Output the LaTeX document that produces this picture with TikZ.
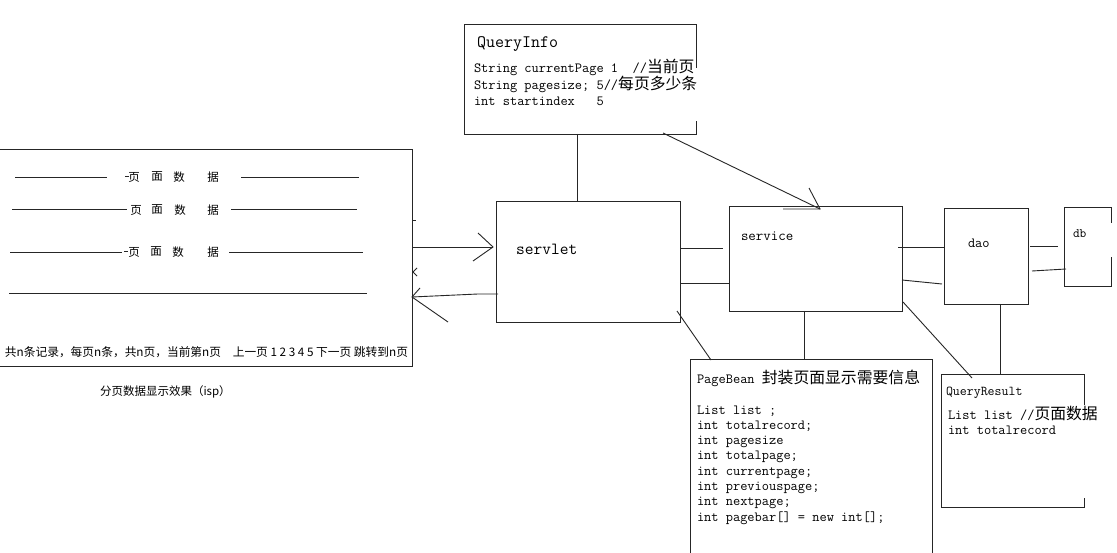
\documentclass[tikz,border=0pt]{standalone}
\usepackage{fontspec}
\usepackage{graphicx}
\newfontfamily\cjk{Noto Sans CJK SC}
\newfontfamily\cjkb[Scale=1.13]{Noto Sans CJK SC}
\usetikzlibrary{calc}
\begin{document}
\begin{tikzpicture}[x=1pt,y=-1pt,
  ln/.style={line width=0.9pt, draw=black!85},
  boxnode/.style={ln, rectangle, inner sep=0pt, outer sep=0pt},
  hidnode/.style={rectangle, draw=none, inner sep=0pt, outer sep=0pt},
  txt/.style={inner sep=0pt, outer sep=0pt, anchor=west, text=black},
  mono/.style={font=\ttfamily\fontsize{14}{15.3}\selectfont},
  pch/.style={inner sep=0pt, font=\cjk\fontsize{11.5}{12}\selectfont}
]
\useasboundingbox (0,0) rectangle (1117,553);
\fill[white] (0,0) rectangle (1117,553);

% ---------- boxes ----------
\node[boxnode, minimum width=413pt, minimum height=217pt] (page) at (205.5,257.5) {};
\node[hidnode, minimum width=232pt, minimum height=110pt] (qinfo) at (580,79) {};
\node[boxnode, minimum width=184pt, minimum height=121pt] (servlet) at (588,261.5) {};
\node[boxnode, minimum width=173pt, minimum height=105pt] (service) at (815.5,258.5) {};
\node[boxnode, minimum width=84pt, minimum height=96pt] (dao) at (986,256) {};
\node[hidnode, minimum width=47pt, minimum height=79pt] (db) at (1087.5,246.5) {};
\node[hidnode, minimum width=242pt, minimum height=206pt] (pagebean) at (811,462) {};
\node[hidnode, minimum width=143pt, minimum height=133pt] (qresult) at (1012.5,440.5) {};

% partial outlines
\draw[ln] ($(qinfo.north east)+(0,44)$) -- (qinfo.north east) -- (qinfo.north west)
  -- (qinfo.south west) -- (qinfo.south east) -- ++(0,-13);
\draw[ln] ($(db.north east)+(0,16)$) -- (db.north east) -- (db.north west)
  -- (db.south west) -- (db.south east) -- ++(0,-29);
\draw[ln] (pagebean.south west) -- (pagebean.north west) -- (pagebean.north east) -- (pagebean.south east);
\draw[ln] ($(qresult.north east)+(0,31)$) -- (qresult.north east) -- (qresult.north west)
  -- (qresult.south west) -- (qresult.south east) -- ++(0,-9);

% ---------- page mock-up contents ----------
\draw[ln] (15,177) -- (107,177);  \draw[ln] (125,176) -- (129,176); \draw[ln] (241,177) -- (359,177);
\draw[ln] (12,209) -- (127,209);  \draw[ln] (231,209) -- (357,209);
\draw[ln] (10,252) -- (122,252);  \draw[ln] (124,251) -- (128,251); \draw[ln] (229,252) -- (363,252);
\draw[ln] (9,293) -- (367,293);
\foreach \r/\yy/\xa/\xb/\xc/\xd in {1/177/134/157/179/213, 2/210/136/157/180/213, 3/252/134/156/178/213}{
  \node[pch] (r\r a) at (\xa,\yy) {页};
  \node[pch] (r\r b) at (\xb,\yy) {面};
  \node[pch] (r\r c) at (\xc,\yy) {数};
  \node[pch] (r\r d) at (\xd,\yy) {据};
}
\node[txt] (pager) at (5,352) {\resizebox{403pt}{!}{\cjk\fontsize{11.5}{12}\selectfont 共n条记录，每页n条，共n页，当前第n页　上一页 1 2 3 4 5 下一页 跳转到n页}};
\node[txt, font=\cjk\fontsize{11.5}{12}\selectfont] (caption) at (100,392) {分页数据显示效果（isp）};

% small marks on the page edge
\draw[ln] (412,220) -- (416,220);
\draw[ln] (417,268) -- (413,272) -- (417,276);

% ---------- texts ----------
\node[txt, font=\ttfamily\fontsize{17.5}{18}\selectfont] (qititle) at (477,44) {QueryInfo};
\node[txt, mono, anchor=north west, align=left] (qibody) at (474,59)
  {String currentPage 1~~//{\cjkb 当前页}\\String pagesize; 5//{\cjkb 每页多少条}\\int startindex~~~5};
\node[txt, font=\ttfamily\fontsize{17}{18}\selectfont] (servlettxt) at (516,249) {servlet};
\node[txt, font=\ttfamily\fontsize{14.5}{16}\selectfont] (servicetxt) at (741,236) {service};
\node[txt, font=\ttfamily\fontsize{14}{16}\selectfont] (daotxt) at (968,243) {dao};
\node[txt, font=\ttfamily\fontsize{13}{15}\selectfont] (dbtxt) at (1073,234) {db};
\node[txt, mono, anchor=north west, align=left] (pbbody) at (697,370)
  {PageBean {\cjkb 封装页面显示需要信息}\\[15.3pt]
   List list ;\\int totalrecord;\\int pagesize\\int totalpage;\\int currentpage;\\int previouspage;\\int nextpage;\\int pagebar[] = new int[];};
\node[txt, font=\ttfamily\fontsize{13.5}{15}\selectfont] (qrtitle) at (946,393) {QueryResult};
\node[txt, mono, anchor=north west, align=left] (qrbody) at (948,406)
  {List list //{\cjkb 页面数据}\\int totalrecord};

% ---------- connectors ----------
% page -> servlet (request)
\coordinate (reqtip) at ($(servlet.north west)+(-3,46)$);
\draw[ln] ($(page.north east)+(0,98)$) -- (reqtip);
\draw[ln] ($(reqtip)+(-15,-14)$) -- (reqtip) -- ($(reqtip)+(-20,14)$);
% servlet -> page (response)
\coordinate (resptip) at ($(page.north east)+(0,148)$);
\draw[ln] ($(servlet.north west)+(2,93)$) -- ($(servlet.north west)+(-18,93)$) -- (resptip);
\draw[ln] ($(resptip)+(8,-9)$) -- (resptip) -- ($(resptip)+(36,25)$);
% QueryInfo -> servlet
\draw[ln] ($(qinfo.south west)+(113,0)$) -- ($(servlet.north west)+(81,0)$);
% QueryInfo -> service (arrow)
\coordinate (qtip) at ($(service.north west)+(91,3)$);
\draw[ln] ($(qinfo.south east)+(-33,-1)$) -- (qtip);
\draw[ln] ($(qtip)+(-11,-21)$) -- (qtip) -- ($(qtip)+(-37,0)$);
% servlet -- service
\draw[ln] ($(servlet.north east)+(0,47)$) -- ($(service.north west)+(-6,42)$);
\draw[ln] ($(servlet.north east)+(0,82)$) -- ($(service.north west)+(0,77)$);
% service -- dao
\draw[ln] ($(service.north east)+(-4,41)$) -- ($(dao.north west)+(0,39)$);
\draw[ln] ($(service.north east)+(0,74)$) -- ($(dao.north west)+(-2,76)$);
% dao -- db
\draw[ln] ($(dao.north east)+(2,38)$) -- ($(db.north west)+(-6,39)$);
\draw[ln] ($(dao.north east)+(4,63)$) -- ($(db.north west)+(2,62)$);
% service -- PageBean
\draw[ln] ($(service.south west)+(75,0)$) -- ($(pagebean.north west)+(114,0)$);
% servlet -- PageBean
\draw[ln] ($(servlet.south east)+(-3,-11)$) -- ($(pagebean.north west)+(21,1)$);
% service -- QueryResult
\draw[ln] ($(service.south east)+(1,-9)$) -- ($(qresult.north west)+(31,4)$);
% dao -- QueryResult
\draw[ln] ($(dao.south west)+(56,0)$) -- ($(qresult.north west)+(59,0)$);
\end{tikzpicture}
\end{document}
